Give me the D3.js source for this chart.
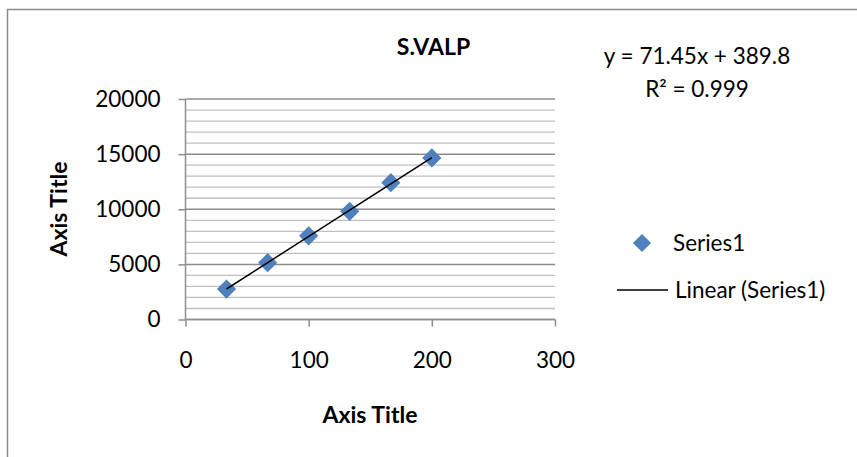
<!DOCTYPE html>
<html>
<head>
<meta charset="utf-8">
<script src="https://cdn.jsdelivr.net/npm/d3@7"></script>
<style>
  body { margin: 0; background: #fff; }
  text { font-family: Lato, "Open Sans", sans-serif; fill: #000; }
</style>
</head>
<body>
<div id="chart"></div>
<script>
// series values
const xValues = [33.3, 66.7, 100, 133.3, 166.7, 200];
const yValues = [2760, 5155, 7585, 9815, 12405, 14655];
const xTicks = [0, 100, 200, 300];
const yTicks = [0, 5000, 10000, 15000, 20000];
const chartTitle = "S.VALP";
const equationLabels = ["y = 71.45x + 389.8", "R² = 0.999"];
const legendLabels = ["Series1", "Linear (Series1)"];

const width = 857,
  height = 457;
const plot = { left: 185.5, right: 555, top: 99, bottom: 319.5 };
const blue = "#4f81bd";

const svg = d3
  .select("#chart")
  .append("svg")
  .attr("width", width)
  .attr("height", height);

// chart area border (right and bottom edges fall outside the picture)
svg
  .append("rect")
  .attr("x", 7.5)
  .attr("y", 9.5)
  .attr("width", width + 20)
  .attr("height", height + 20)
  .attr("fill", "none")
  .attr("stroke", "#8c8c8c")
  .attr("stroke-width", 1.5);

const x = d3.scaleLinear().domain([0, 300]).range([plot.left, plot.right]);
const y = d3.scaleLinear().domain([0, 20000]).range([plot.bottom, plot.top]);

// minor + major gridlines
const minor = d3.range(0, 20001, 1000);
svg
  .append("g")
  .attr("class", "grid")
  .selectAll("line")
  .data(minor)
  .join("line")
  .attr("x1", plot.left)
  .attr("x2", plot.right)
  .attr("y1", (d) => y(d))
  .attr("y2", (d) => y(d))
  .attr("stroke", (d) => (d % 5000 === 0 ? "#8c8c8c" : "#c0c0c0"))
  .attr("stroke-width", (d) => (d % 5000 === 0 ? 1.5 : 1.3));

// axes
const yAxis = svg
  .append("g")
  .attr("transform", "translate(" + plot.left + ",0)")
  .call(d3.axisLeft(y).tickValues(yTicks).tickSize(7).tickPadding(18).tickFormat(d3.format("d")));

const xAxis = svg
  .append("g")
  .attr("transform", "translate(0," + plot.bottom + ")")
  .call(d3.axisBottom(x).tickValues(xTicks).tickSize(7).tickPadding(26).tickFormat(d3.format("d")));

[xAxis, yAxis].forEach(function (a) {
  a.select(".domain").attr("stroke", "#8c8c8c").attr("stroke-width", 1.5);
  a.selectAll(".tick line").attr("stroke", "#8c8c8c").attr("stroke-width", 1.5);
  a.selectAll(".tick text")
    .attr("font-family", "Lato, sans-serif")
    .attr("font-size", 22.5)
    .attr("fill", "#000");
});
xAxis.select(".domain").attr("d", "M" + plot.left + ",0H" + plot.right);
yAxis.select(".domain").attr("d", "M0," + plot.bottom + "V" + plot.top);

// linear trendline, least squares over the series
const n = xValues.length;
const mx = d3.mean(xValues),
  my = d3.mean(yValues);
const slope =
  d3.sum(xValues, (v, i) => (v - mx) * (yValues[i] - my)) /
  d3.sum(xValues, (v) => (v - mx) * (v - mx));
const intercept = my - slope * mx;
const trendX = d3.extent(xValues);

svg
  .append("line")
  .attr("class", "trend")
  .attr("x1", x(trendX[0]))
  .attr("y1", y(slope * trendX[0] + intercept))
  .attr("x2", x(trendX[1]))
  .attr("y2", y(slope * trendX[1] + intercept))
  .attr("stroke", "#000")
  .attr("stroke-width", 1.5);

// diamond markers
const diamond = d3.symbol().type(d3.symbolSquare).size(185);
svg
  .append("g")
  .selectAll("path")
  .data(xValues.map((v, i) => [v, yValues[i]]))
  .join("path")
  .attr("d", diamond)
  .attr("transform", (d) => "translate(" + x(d[0]) + "," + y(d[1]) + ") rotate(45)")
  .attr("fill", blue);

// trendline sits on top of markers in the picture
svg.select(".trend").raise();

// titles
svg
  .append("text")
  .attr("x", 433.5)
  .attr("y", 55)
  .attr("text-anchor", "middle")
  .attr("font-size", 23)
  .attr("font-weight", "bold")
  .text(chartTitle);

svg
  .append("text")
  .attr("x", 370)
  .attr("y", 423)
  .attr("text-anchor", "middle")
  .attr("font-size", 23)
  .attr("font-weight", "bold")
  .text("Axis Title");

svg
  .append("text")
  .attr("transform", "translate(67,209) rotate(-90)")
  .attr("text-anchor", "middle")
  .attr("font-size", 23)
  .attr("font-weight", "bold")
  .text("Axis Title");

// trendline equation
svg
  .selectAll(".eq")
  .data(equationLabels)
  .join("text")
  .attr("class", "eq")
  .attr("x", 697)
  .attr("y", (d, i) => 64 + i * 33)
  .attr("text-anchor", "middle")
  .attr("font-size", 22.5)
  .text((d) => d);

// legend
const legend = svg.append("g").attr("class", "legend");
legend
  .append("path")
  .attr("d", d3.symbol().type(d3.symbolSquare).size(165))
  .attr("transform", "translate(642,243) rotate(45)")
  .attr("fill", blue);
legend
  .append("line")
  .attr("x1", 617)
  .attr("x2", 668)
  .attr("y1", 290)
  .attr("y2", 290)
  .attr("stroke", "#000")
  .attr("stroke-width", 1.5);
legend
  .selectAll("text")
  .data(legendLabels)
  .join("text")
  .attr("x", (d, i) => (i === 0 ? 673 : 675))
  .attr("y", (d, i) => (i === 0 ? 251 : 298))
  .attr("font-size", 22.5)
  .text((d) => d);
</script>
</body>
</html>
